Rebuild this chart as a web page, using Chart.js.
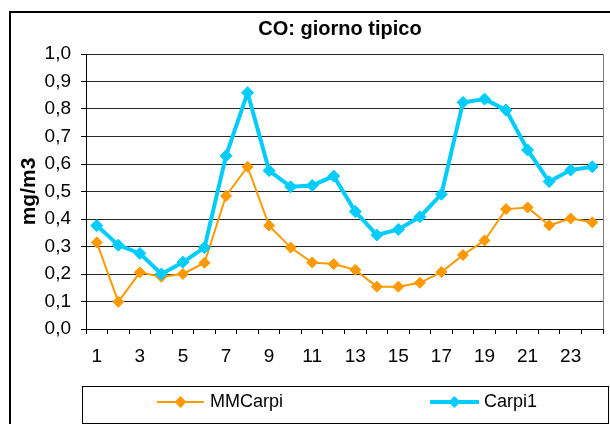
<!DOCTYPE html>
<html><head><meta charset="utf-8">
<script src="https://cdn.jsdelivr.net/npm/chart.js@4/dist/chart.umd.min.js"></script>
<style>html,body{margin:0;padding:0;background:#fff;}</style>
</head><body>
<canvas id="c" width="610" height="424"></canvas>
<script>
const hours = ['1','2','3','4','5','6','7','8','9','10','11','12','13','14','15','16','17','18','19','20','21','22','23','24'];
const yTickLabels = ['0,0','0,1','0,2','0,3','0,4','0,5','0,6','0,7','0,8','0,9','1,0'];
const mmCarpi = [0.315,0.099,0.206,0.19,0.2,0.241,0.484,0.59,0.376,0.296,0.242,0.236,0.215,0.154,0.154,0.168,0.207,0.269,0.322,0.436,0.442,0.377,0.402,0.388];
const carpi1 = [0.376,0.305,0.275,0.2,0.243,0.296,0.63,0.859,0.576,0.517,0.522,0.556,0.427,0.342,0.362,0.408,0.49,0.824,0.836,0.796,0.651,0.536,0.578,0.59];
const titleText = 'CO: giorno tipico';
const yTitle = 'mg/m3';
const FONT = "'Liberation Sans', Arial, sans-serif";

const framePlugin = {
  id: 'frame',
  beforeDraw(chart) {
    const ctx = chart.ctx;
    ctx.save();
    ctx.fillStyle = '#fff';
    ctx.fillRect(0, 0, chart.width, chart.height);
    ctx.restore();
  },
  afterDraw(chart) {
    const ctx = chart.ctx;
    const a = chart.chartArea;
    ctx.save();
    // outer chart frame (extends past the right/bottom edges)
    ctx.strokeStyle = '#000';
    ctx.lineWidth = 2;
    ctx.beginPath();
    ctx.moveTo(10, chart.height);
    ctx.lineTo(10, 12);
    ctx.lineTo(chart.width, 12);
    ctx.stroke();
    // title, centred on the full (wider) chart box
    ctx.fillStyle = '#000';
    ctx.font = 'bold 20px ' + FONT;
    ctx.textAlign = 'center';
    ctx.textBaseline = 'middle';
    ctx.fillText(titleText, 340, 29);
    // plot area right border
    ctx.strokeStyle = '#808080';
    ctx.lineWidth = 1;
    ctx.beginPath();
    ctx.moveTo(Math.round(a.right) + 0.5, a.top);
    ctx.lineTo(Math.round(a.right) + 0.5, a.bottom);
    ctx.stroke();
    // legend box
    ctx.strokeStyle = '#000';
    ctx.lineWidth = 1;
    ctx.strokeRect(82.5, 386.5, 526, 37);
    const items = [
      {ds: chart.data.datasets[0], x0: 157, x1: 204, tx: 210},
      {ds: chart.data.datasets[1], x0: 430, x1: 479, tx: 484}
    ];
    const ly = 402;
    items.forEach(it => {
      ctx.strokeStyle = it.ds.borderColor;
      ctx.lineWidth = it.ds.borderWidth;
      ctx.beginPath();
      ctx.moveTo(it.x0, ly);
      ctx.lineTo(it.x1, ly);
      ctx.stroke();
      const cx = (it.x0 + it.x1) / 2, r = 6;
      ctx.fillStyle = it.ds.pointBackgroundColor;
      ctx.beginPath();
      ctx.moveTo(cx, ly - r); ctx.lineTo(cx + r, ly); ctx.lineTo(cx, ly + r); ctx.lineTo(cx - r, ly);
      ctx.closePath();
      ctx.fill();
      ctx.fillStyle = '#000';
      ctx.font = '18px ' + FONT;
      ctx.textBaseline = 'middle';
      ctx.textAlign = 'left';
      ctx.fillText(it.ds.label, it.tx, ly);
    });
    ctx.restore();
  }
};

new Chart(document.getElementById('c'), {
  type: 'line',
  data: {
    labels: hours,
    datasets: [
      {label: 'MMCarpi', data: mmCarpi, borderColor: '#FF9900', backgroundColor: '#FF9900',
       pointBackgroundColor: '#FF9900', pointBorderColor: '#FF9900', borderWidth: 2,
       pointStyle: 'rectRot', pointRadius: 5.5, pointBorderWidth: 1, tension: 0, order: 1},
      {label: 'Carpi1', data: carpi1, borderColor: '#00CCFF', backgroundColor: '#00CCFF',
       pointBackgroundColor: '#00CCFF', pointBorderColor: '#00CCFF', borderWidth: 4,
       pointStyle: 'rectRot', pointRadius: 6, pointBorderWidth: 1, tension: 0, order: 0}
    ]
  },
  options: {
    responsive: false,
    animation: false,
    devicePixelRatio: 1,
    layout: {padding: {left: 9, top: 54, right: 3, bottom: 0}},
    plugins: {
      legend: {display: false},
      tooltip: {enabled: false},
      title: {display: false}
    },
    scales: {
      x: {
        type: 'category', offset: true,
        grid: {offset: true, drawOnChartArea: false, drawTicks: true, tickLength: 5, color: '#000', tickColor: '#000'},
        border: {display: true, color: '#000', width: 1},
        ticks: {autoSkip: false, maxRotation: 0, minRotation: 0, padding: 11, color: '#000',
          font: {family: FONT, size: 19},
          callback: (v, i) => (i % 2 === 0 ? hours[i] : '')},
        afterFit: s => { s.height = 95; }
      },
      y: {
        min: 0, max: 1,
        grid: {color: '#262626', tickColor: '#000', tickLength: 5, drawTicks: true},
        border: {display: true, color: '#000', width: 1},
        ticks: {stepSize: 0.1, padding: 10, color: '#000', font: {family: FONT, size: 19},
          callback: (v, i) => yTickLabels[i]},
        title: {display: true, text: yTitle, color: '#000', font: {family: FONT, size: 21, weight: 'bold'},
          padding: {top: 8, bottom: 0}},
        afterFit: s => { s.width = 77; }
      }
    }
  },
  plugins: [framePlugin]
});
</script>
</body></html>
